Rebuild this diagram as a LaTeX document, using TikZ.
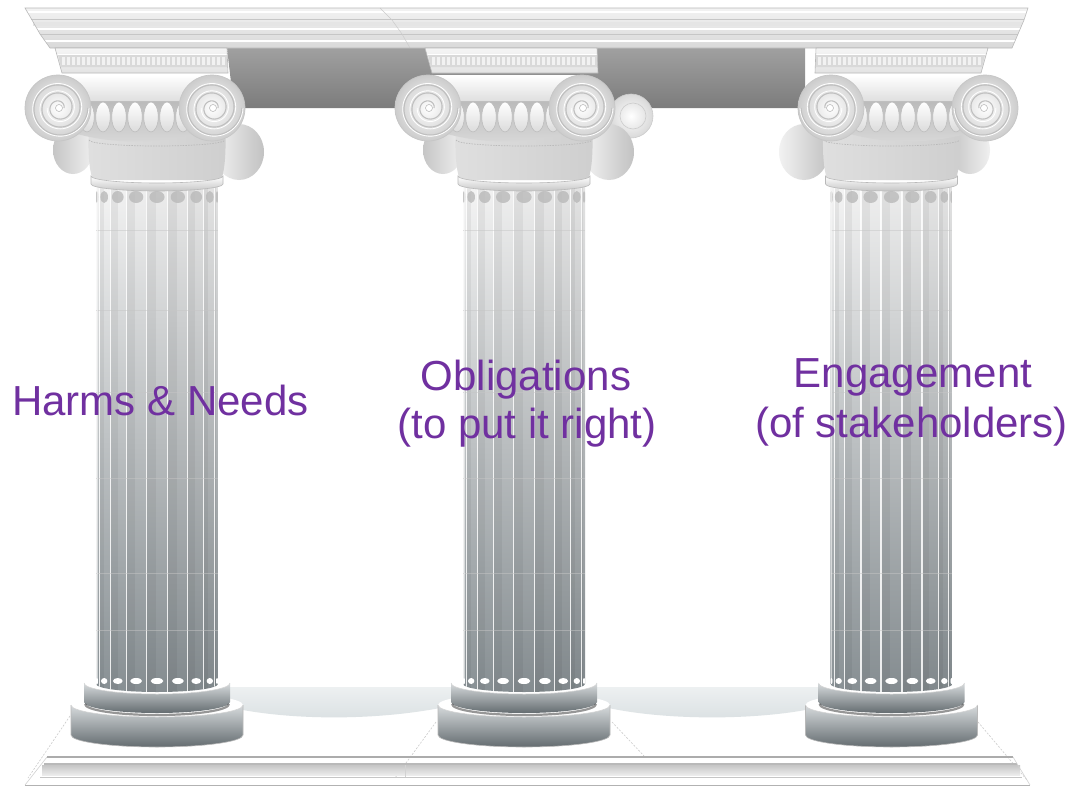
\documentclass[tikz,border=0pt]{standalone}
\usepackage{fontspec}
\setmainfont{Liberation Sans}
\definecolor{txt}{RGB}{112,48,160}
\definecolor{shTop}{RGB}{244,244,244}
\definecolor{shMid}{RGB}{226,228,229}
\definecolor{shBot}{RGB}{136,144,148}
\definecolor{baseTop}{RGB}{215,219,221}
\definecolor{baseBot}{RGB}{100,108,112}
\definecolor{soffA}{RGB}{160,160,160}
\definecolor{soffB}{RGB}{108,108,108}
\definecolor{soffC}{RGB}{124,124,124}
\definecolor{floorA}{RGB}{238,241,242}
\definecolor{floorB}{RGB}{218,224,226}
\tikzset{
  lbl/.style={text=txt, font=\fontsize{42}{50}\selectfont, inner sep=0pt, anchor=base},
  seam/.style={gray!45, line width=0.5pt, opacity=0.5},
  edgeline/.style={gray!40, dash pattern=on 2pt off 1.5pt, line width=0.6pt},
  rim/.style={gray!55, line width=0.6pt},
}
\newcommand\drawcolumn[4]{%
  % #1 shaft x, #2 capital x, #3 mirror, #4 extra side volute
  \begin{scope}[shift={(#1,0)}]
    % lower torus
    \shade[top color=baseTop, bottom color=baseBot] (-86,705) -- (-86,735)
      arc[start angle=180,end angle=0,x radius=86,y radius=12] -- (86,705) -- cycle;
    \draw[rim] (-86,705) -- (-86,735) arc[start angle=180,end angle=0,x radius=86,y radius=12] -- (86,705);
    \fill[white] (0,705) ellipse[x radius=86,y radius=12];
    \draw[gray!35, line width=0.5pt] (-86,705) arc[start angle=180,end angle=0,x radius=86,y radius=12];
    % upper torus
    \shade[top color=baseTop, bottom color=baseBot] (-73,683) -- (-73,702)
      arc[start angle=180,end angle=0,x radius=73,y radius=11] -- (73,683) -- cycle;
    \fill[white] (0,683) ellipse[x radius=73,y radius=11];
    \draw[gray!35, line width=0.5pt] (-73,683) arc[start angle=180,end angle=0,x radius=73,y radius=11];
    \draw[black!75, opacity=0.55, line width=2.2pt] (-72,704) arc[start angle=180,end angle=0,x radius=72,y radius=11];
    % shaft
    \begin{scope}
      \clip (-61,186) -- (-61,684) arc[start angle=180,end angle=0,x radius=61,y radius=8] -- (61,186) -- cycle;
      \foreach \k in {0,...,8}{
        \pgfmathsetmacro\xa{61*sin(-90+20*\k)}
        \pgfmathsetmacro\xb{61*sin(-70+20*\k)}
        \pgfmathsetmacro\xm{61*sin(-80+20*\k)}
        \pgfmathsetmacro\w{\xb-\xa}
        \pgfmathtruncatemacro\pp{97-4*sin(-80+20*\k)}
        \shade[top color=shTop!\pp!black, middle color=shMid!\pp!black, bottom color=shBot!\pp!black]
          (\xa,186) rectangle (\xb,694);
        \fill[black, opacity=0.05] (\xa,186) rectangle ({\xa+0.45*\w},694);
        \draw[white, opacity=0.85, line width=1.3pt] (\xa,186) -- (\xa,694);
        \fill[gray!55, opacity=0.8] (\xm,197) ellipse[x radius={0.36*\w}, y radius=6];
        \fill[white] (\xm,681) ellipse[x radius={0.3*\w}, y radius=3];
      }
      \foreach \sy in {230,310,392,478,573,630}{
        \draw[seam] (-61,\sy) -- (61,\sy);
      }
    \end{scope}
    \draw[white, opacity=0.6, line width=1pt] (-60,186) -- (-60,684);
  \end{scope}
  \begin{scope}[shift={(#2,0)}, xscale=#3]
    \ifnum#4=1
      \shade[inner color=white, outer color=gray!30] (126,116) circle[radius=22];
      \draw[gray!40, line width=0.6pt] (126,116) circle[radius=22];
      \draw[gray!40, line width=0.6pt] (128,116) circle[radius=13];
    \fi
    % bolsters
    \shade[left color=gray!10, right color=gray!48] (104,152) ellipse[x radius=25,y radius=28];
    \shade[left color=gray!45, right color=gray!12] (-62,150) ellipse[x radius=20,y radius=24];
  \end{scope}
  \begin{scope}[shift={(#1,0)}]
    % echinus bowl
    \shade[left color=gray!25, middle color=white, right color=gray!38]
      (-68,126) .. controls (-70,160) and (-66,176) .. (-64,180) -- (64,180)
      .. controls (66,176) and (70,160) .. (68,126) -- cycle;
    \draw[gray!55, line width=0.7pt, dash pattern=on 1.5pt off 1.2pt]
      (-68,140) arc[start angle=180,end angle=0,x radius=68,y radius=6];
    % necking ring
    \shade[top color=white, bottom color=gray!45]
      (-66,176) arc[start angle=180,end angle=0,x radius=66,y radius=7] -- (66,184)
      arc[start angle=0,end angle=180,x radius=66,y radius=7] -- cycle;
    \draw[rim] (-66,176) arc[start angle=180,end angle=0,x radius=66,y radius=7] -- (66,184)
      arc[start angle=0,end angle=180,x radius=66,y radius=7] -- cycle;
  \end{scope}
  \begin{scope}[shift={(#2,0)}, xscale=#3]
    % egg-and-dart row
    \shade[top color=gray!55, bottom color=gray!30]
      (-62,98) -- (62,98) -- (58,134) .. controls (20,144) and (-20,144) .. (-58,134) -- cycle;
    \foreach \ex in {-48,-32,...,48}{
      \shade[top color=white, bottom color=gray!28] (\ex,117) ellipse[x radius=7.2, y radius=15];
      \draw[gray!55, line width=0.5pt] (\ex,117) ellipse[x radius=7.2, y radius=15];
    }
    % channel
    \shade[top color=white, bottom color=gray!25] (-77,75) rectangle (77,101);
    \draw[gray!50, line width=0.6pt] (-77,101) -- (77,101);
    % volutes
    \foreach \s in {-1,1}{
      \shade[inner color=white, outer color=gray!40] (\s*77,108) circle[radius=33];
      \draw[gray!45, line width=0.7pt] (\s*77,108) circle[radius=33];
      \draw[gray!50, line width=1.1pt] plot[variable=\t, domain=0:1080, samples=150, smooth]
        ({\s*77 + 1 + (5+24*(1-\t/1080))*cos(\t)}, {108 + (5+24*(1-\t/1080))*sin(\t)});
      \draw[white, line width=0.8pt] plot[variable=\t, domain=0:900, samples=130, smooth]
        ({\s*77 + 1 + (8+22*(1-\t/1080))*cos(\t)}, {108 + (8+22*(1-\t/1080))*sin(\t)});
      \fill[white] (\s*77+1,108) circle[radius=3.5];
      \draw[gray!60, line width=0.5pt] (\s*77+1,108) circle[radius=3.5];
    }
    % abacus
    \shade[top color=gray!8, bottom color=gray!22] (-80,48) -- (92,48) -- (93,73) -- (-73,73) -- cycle;
    \fill[gray!30] (-77,55) -- (92,55) -- (92,67) -- (-74,67) -- cycle;
    \foreach \dx in {-73,-68,...,88}{
      \fill[gray!10] (\dx,57) rectangle ({\dx+2.6},65);
    }
    \draw[white, line width=1pt] (-78,54) -- (92,54);
    \draw[gray!55, line width=0.6pt] (-80,48) -- (92,48) -- (93,73) -- (-73,73) -- cycle;
  \end{scope}
}
\begin{document}
\begin{tikzpicture}[x=1pt,y=-1pt]
  \useasboundingbox (0,0) rectangle (1072,787);
  \fill[white] (0,0) rectangle (1072,787);
  % soffit (underside of the beam)
  \shade[top color=soffA, middle color=soffB, bottom color=soffC]
    (227,48) -- (805,48) -- (805,108) -- (234,108) -- cycle;
  % cornice
  \shade[top color=gray!10, bottom color=gray!30]
    (25,8) -- (1028,8) -- (1024,20) -- (1018,34) -- (1012,48) -- (50,48) -- (40,34) -- (32,20) -- cycle;
  \draw[white, line width=1.6pt] (28,12) -- (1026,12);
  \draw[gray!45, line width=0.6pt] (31,19) -- (1024,19);
  \draw[gray!20, line width=4pt] (33,24) -- (1022,24);
  \draw[white, line width=1.8pt] (37,29) -- (1020,29);
  \draw[gray!45, line width=0.6pt] (40,34) -- (1018,34);
  \draw[white, line width=1.2pt] (45,41) -- (1015,41);
  \draw[gray!40, line width=0.5pt] (380,8) -- (392,20) -- (402,34) -- (410,48);
  \draw[gray!55, line width=0.6pt]
    (25,8) -- (1028,8) -- (1024,20) -- (1018,34) -- (1012,48) -- (50,48) -- (40,34) -- (32,20) -- cycle;
  % floor behind the bases
  \shade[top color=floorA, bottom color=floorB]
    (228,685) -- (820,685) -- (820,707) .. controls (760,721) and (660,721) .. (600,706)
    -- (450,706) .. controls (380,721) and (290,721) .. (228,707) -- cycle;
  \draw[white, line width=1.2pt] (228,686) -- (820,686);
  % platform edges
  \draw[edgeline] (70,716) -- (28,778);
  \draw[edgeline] (436,722) -- (395,778);
  \draw[edgeline] (612,722) -- (645,757);
  \draw[edgeline] (978,722) -- (1027,780);
  % platform front
  \draw[gray!65, line width=1.6pt] (47,757) -- (1013,757);
  \draw[gray!55, line width=1.2pt] (44,764) -- (1017,764);
  \shade[top color=gray!45, bottom color=gray!15] (42,765) rectangle (1020,775);
  \draw[gray!45, line width=0.8pt] (40,777) -- (1022,777);
  \draw[gray!60, line width=1pt] (25,785) -- (1030,785);
  \draw[gray!35, line width=0.6pt] (47,757) -- (25,785);
  \draw[gray!35, line width=0.6pt] (1013,757) -- (1030,785);
  \draw[gray!35, line width=0.6pt] (405,765) -- (405,777);
  % columns
  \drawcolumn{157}{135}{1}{0}
  \drawcolumn{524}{505}{1}{1}
  \drawcolumn{891.5}{908}{-1}{0}
  % labels
  \node[lbl] (harms) at (160.5,415) {Harms \& Needs};
  \node[lbl] (oblig) at (526,390) {Obligations};
  \node[lbl] (right) at (527,438) {(to put it right)};
  \node[lbl] (engage) at (913,387) {Engagement};
  \node[lbl] (stake) at (911.5,437) {(of stakeholders)};
\end{tikzpicture}
\end{document}
